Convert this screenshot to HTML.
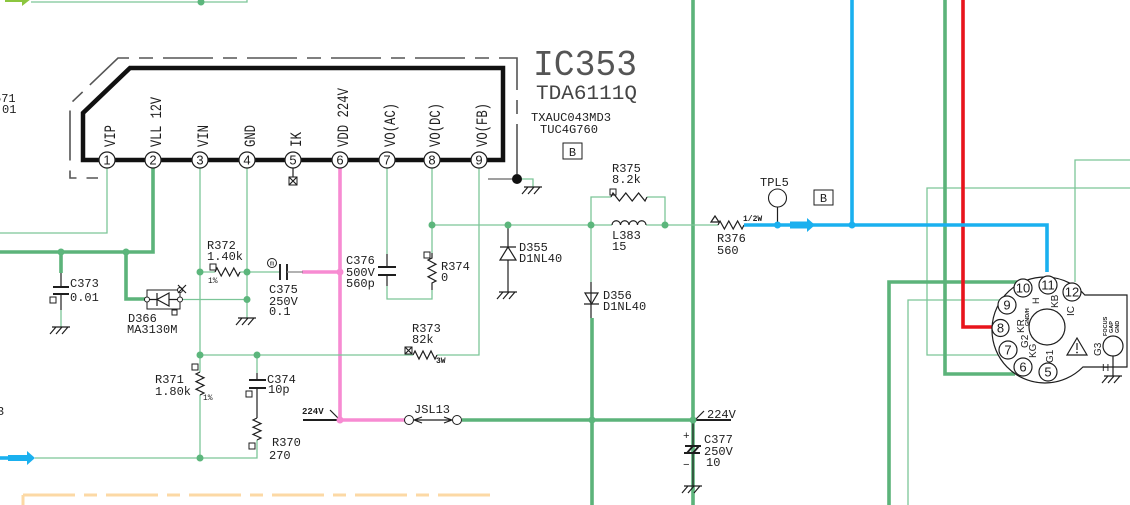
<!DOCTYPE html>
<html><head><meta charset="utf-8">
<style>
html,body{margin:0;padding:0;background:#fff;}
svg{display:block}
text{font-family:"Liberation Mono",monospace;font-size:12px;fill:#1e1e1e}
.t{stroke:#7cc598;stroke-width:1.3;fill:none}
.T{stroke:#5cb37a;stroke-width:3.6;fill:none}
.k{stroke:#1e1e1e;stroke-width:1.2;fill:none}
.p{stroke:#1e1e1e;stroke-width:1.9;fill:none}
.d{fill:#5cb67c}
.pc{fill:#fff;stroke:#1e1e1e;stroke-width:1.2}
.pn{font-family:"Liberation Sans",sans-serif;font-size:13px;text-anchor:middle}
.v{font-size:16px}
.s{font-family:"Liberation Sans",sans-serif;font-size:10px}
</style></head><body>
<svg width="1130" height="505" viewBox="0 0 1130 505" xmlns="http://www.w3.org/2000/svg">
<defs>
<g id="gnd"><path d="M-9,0 H9 M-5,0 L-11,7 M1,0 L-5,7 M7,0 L1,7" stroke="#1e1e1e" stroke-width="1.2" fill="none"/></g>
</defs>

<!-- top-left -->
<polygon points="5,-4 22,-4 22,-8 31,-1 22,6 22,2 5,2" fill="#8cc63f"/>
<path class="t" d="M31,2 H247 V0"/>
<circle class="d" cx="201" cy="2" r="3.5"/>
<text x="-6" y="102">571</text>
<text x="2" y="113">01</text>
<text x="-3" y="415">3</text>

<!-- IC dashed outline -->
<path d="M517,174 V58 H118 L70,104 V178 H98" stroke="#555" stroke-width="1.6" fill="none" stroke-dasharray="50 10 14 10"/>
<!-- IC body -->
<path d="M130,68 H503 V160 H83 V113 Z" stroke="#111" stroke-width="4.5" fill="none"/>

<!-- orange dashed -->
<path d="M23,505 V495" stroke="#fcd9a5" stroke-width="3" fill="none"/>
<path d="M23,495 H498" stroke="#fcd9a5" stroke-width="3" fill="none" stroke-dasharray="52 9 13 9"/>

<!-- pin nets -->
<path class="t" d="M107,168 V233 H0"/>
<path class="T" d="M153,168 V252 H0"/>
<path class="t" d="M200,168 V372 M200,395 V458 H35 M200,458 H257 V440"/>
<path class="t" d="M247,168 V318"/>
<path class="k" d="M293,168 V177"/>
<rect x="289" y="177" width="8" height="8" fill="#fff" stroke="#1e1e1e" stroke-width="1"/>
<path class="k" d="M289,177 L297,185 M297,177 L289,185"/>
<path d="M340,168 V420 H405 M302,272 H340" stroke="#f78bd2" stroke-width="3.6" fill="none"/>
<path class="t" d="M387,168 V254 M387,286 V299 H432 V290"/>
<path class="k" d="M387,254 V267 M387,275 V286"/>
<path class="p" d="M378,267 H396 M378,275 H396"/>
<path class="t" d="M432,168 V253"/>
<path class="k" d="M432,253 V258 l-4,2 l8,4.2 l-8,4.2 l8,4.2 l-8,4.2 l8,4.2 l-4,2 V290"/>
<rect x="424" y="252" width="6" height="6" fill="none" stroke="#1e1e1e" stroke-width="1"/>
<path class="t" d="M479,168 V355 H437"/>

<!-- ground near pin9 -->
<path d="M488,179 H517" stroke="#666" stroke-width="1.3"/>
<path class="t" d="M517,179 H533 V187"/>
<circle cx="517" cy="179" r="5" fill="#111"/>
<use href="#gnd" x="533" y="187"/>

<!-- C373 -->
<path class="T" d="M61,252 V273"/>
<path class="k" d="M61,273 V287 M61,294 V310"/>
<path class="p" d="M53,287 H69 M53,294 H69"/>
<path class="t" d="M61,310 V327"/>
<use href="#gnd" x="61" y="327"/>
<rect x="50" y="297" width="6" height="6" fill="none" stroke="#1e1e1e" stroke-width="1"/>
<text x="70" y="287">C373</text>
<text x="70" y="301">0.01</text>

<!-- D366 -->
<path class="T" d="M126,252 V299 H147"/>
<rect x="147" y="290" width="33" height="19" fill="none" stroke="#1e1e1e" stroke-width="1"/>
<path class="k" d="M147,299.5 H157 M157,293 V306 M169,293 L157,299.5 L169,306 Z M169,299.5 H180"/>
<path class="t" d="M180,299.5 H247"/>
<circle cx="147" cy="299.5" r="2.5" fill="#fff" stroke="#1e1e1e" stroke-width="1"/>
<circle cx="180" cy="299.5" r="2.5" fill="#fff" stroke="#1e1e1e" stroke-width="1"/>
<circle cx="180" cy="290" r="2.5" fill="#fff" stroke="#1e1e1e" stroke-width="1"/>
<path class="k" d="M178,285 L186,293 M186,285 L178,293" stroke-width="0.9"/>
<rect x="172" y="310" width="5" height="5" fill="none" stroke="#1e1e1e" stroke-width="1"/>
<text x="128" y="322">D366</text>
<text x="127" y="333">MA3130M</text>
<use href="#gnd" x="247" y="318"/>

<!-- R372 / C375 -->
<path class="t" d="M200,272 H215 M240,272 H280"/>
<path class="k" d="M215,272 l2,-4 l4.2,8 l4.2,-8 l4.2,8 l4.2,-8 l4.2,8 l2,-4"/>
<rect x="210" y="264" width="6" height="6" fill="none" stroke="#1e1e1e" stroke-width="1"/>
<text x="207" y="249">R372</text>
<text x="207" y="260">1.40k</text>
<text x="208" y="283" style="font-size:8px">1%</text>
<path class="p" d="M280,264 V280 M287,264 V280"/>
<path d="M287,272 H303" stroke="#888" stroke-width="1.3"/>
<circle cx="272" cy="263" r="4.5" fill="#fff" stroke="#1e1e1e" stroke-width="1"/>
<text x="272" y="265.5" text-anchor="middle" style="font-size:7px">m</text>
<text x="269" y="293">C375</text>
<text x="269" y="305">250V</text>
<text x="269" y="315">0.1</text>

<!-- R371 -->
<path class="k" d="M200,372 l-4,2 l8,3.8 l-8,3.8 l8,3.8 l-8,3.8 l8,3.8 l-4,2"/>
<rect x="192" y="364" width="6" height="6" fill="none" stroke="#1e1e1e" stroke-width="1"/>
<text x="155" y="383">R371</text>
<text x="155" y="395">1.80k</text>
<text x="203" y="400" style="font-size:8px">1%</text>

<!-- R373 -->
<path class="t" d="M200,355 H413"/>
<path class="k" d="M413,355 l2,-4 l4,8 l4,-8 l4,8 l4,-8 l4,8 l2,-4"/>
<rect x="405" y="347" width="7" height="7" fill="#fff" stroke="#1e1e1e" stroke-width="1"/>
<path class="k" d="M405,347 L412,354 M412,347 L405,354" stroke-width="0.9"/>
<text x="412" y="332">R373</text>
<text x="412" y="343">82k</text>
<text x="436" y="363" style="font-size:8px;font-weight:bold">3W</text>

<!-- C374 / R370 -->
<path class="t" d="M257,355 V373"/>
<path class="k" d="M257,373 V380 M257,388 V410 M257,410 V418"/>
<path class="p" d="M249,380 H266 M249,388 H266"/>
<path class="k" d="M257,418 l-4,2 l8,3.6 l-8,3.6 l8,3.6 l-8,3.6 l8,3.6 l-4,2"/>
<rect x="246" y="391" width="6" height="6" fill="none" stroke="#1e1e1e" stroke-width="1"/>
<rect x="249" y="443" width="6" height="6" fill="none" stroke="#1e1e1e" stroke-width="1"/>
<text x="267" y="383">C374</text>
<text x="268" y="393">10p</text>
<text x="272" y="446">R370</text>
<text x="269" y="459">270</text>

<!-- blue arrow left -->
<path d="M0,458 H10" stroke="#1ab0ef" stroke-width="3.6"/>
<polygon points="8,455 27,455 27,451 35,458 27,465 27,461 8,461" fill="#1ab0ef"/>

<!-- 224V left / JSL13 -->
<path d="M303,420 H340" stroke="#1e1e1e" stroke-width="2"/>
<path class="k" d="M330,410 L339,419"/>
<text x="302" y="414" style="font-size:9px;font-weight:bold">224V</text>
<path class="k" d="M414,420 H452 M414,420 l8,-3 M414,420 l8,3 M452,420 l-8,-3 M452,420 l-8,3"/>
<circle cx="409" cy="420" r="4.5" fill="#fff" stroke="#1e1e1e" stroke-width="1"/>
<circle cx="457" cy="420" r="4.5" fill="#fff" stroke="#1e1e1e" stroke-width="1"/>
<text x="414" y="413">JSL13</text>
<path class="T" d="M462,420 H693"/>
<path class="T" d="M592,318 V505"/>
<path class="T" d="M693,0 V505"/>
<path d="M693,420 H731" stroke="#1e1e1e" stroke-width="2"/>
<path class="k" d="M696,419 L704,411"/>
<text x="707" y="418">224V</text>

<!-- C377 -->
<path class="k" d="M693,420 V446 M693,453 V486"/>
<path class="p" d="M685,446 H701 M684,453 H700 M687,453 L693,446 M693,453 L699,446" stroke-width="1.4"/>
<text x="683" y="439" style="font-size:11px">+</text>
<text x="683" y="468" style="font-size:11px">−</text>
<use href="#gnd" x="693" y="486"/>
<text x="704" y="443">C377</text>
<text x="704" y="455">250V</text>
<text x="706" y="466">10</text>

<!-- C376 / R374 labels -->
<text x="346" y="264">C376</text>
<text x="346" y="276">500V</text>
<text x="346" y="287">560p</text>
<text x="441" y="270">R374</text>
<text x="441" y="281">0</text>

<!-- horizontal net y=225 -->
<path class="t" d="M432,225 H612 M646,225 H718"/>
<path class="k" d="M612,225 a4.25,4.25 0 0 1 8.5,0 a4.25,4.25 0 0 1 8.5,0 a4.25,4.25 0 0 1 8.5,0 a4.25,4.25 0 0 1 8.5,0"/>
<path class="t" d="M591,225 V197 H611 M647,197 H665 V225"/>
<path class="k" d="M611,197 l2,-4 l6.4,8 l6.4,-8 l6.4,8 l6.4,-8 l6.4,8 l2,-4"/>
<rect x="610" y="189" width="6" height="6" fill="none" stroke="#1e1e1e" stroke-width="1"/>
<text x="612" y="172">R375</text>
<text x="612" y="183">8.2k</text>
<text x="612" y="239">L383</text>
<text x="612" y="250">15</text>

<!-- D355 -->
<path class="k" d="M508,225 V247 M500,247 H516 M508,247 L500,260 H516 Z M508,260 V292"/>
<use href="#gnd" x="508" y="292"/>
<text x="519" y="251">D355</text>
<text x="519" y="262">D1NL40</text>

<!-- D356 -->
<path class="t" d="M591,225 V282"/>
<path class="k" d="M591,282 V318 M585,293 H598 L591.5,304 Z M584,304 H599"/>
<text x="603" y="299">D356</text>
<text x="603" y="310">D1NL40</text>

<!-- R376 / TPL5 -->
<path class="k" d="M711,222 L715,216 L719,222 Z" fill="#fff"/>
<path class="k" d="M718,225 l2,-4 l4.4,8 l4.4,-8 l4.4,8 l4.4,-8 l4.4,8 l2,-4"/>
<text x="743" y="221" style="font-size:8px;font-weight:bold">1/2W</text>
<text x="717" y="242">R376</text>
<text x="717" y="254">560</text>

<!-- right side nets -->
<path class="t" d="M1000,355 H927 V188 H1130"/>
<path class="t" d="M1075,282 V160 H1130"/>
<path class="t" d="M1000,300 H908 V505"/>
<path class="T" d="M1017,282 H889 V505"/>
<path class="T" d="M945,0 V374 H1015"/>
<path d="M963,0 V327 H992" stroke="#e8141c" stroke-width="3.6" fill="none"/>
<path d="M744,225 H1047 V272 M852,0 V225" stroke="#1ab0ef" stroke-width="3.6" fill="none"/>
<polygon points="790,221.5 807,221.5 807,218 815,225 807,232 807,228.5 790,228.5" fill="#1ab0ef"/>
<path class="k" d="M777.5,207 V225"/>
<circle cx="777.5" cy="198" r="9" fill="#fff" stroke="#1e1e1e" stroke-width="1.1"/>
<circle cx="777.5" cy="225" r="3.5" fill="#1ab0ef"/>
<circle cx="852" cy="225" r="3.5" fill="#1ab0ef"/>
<text x="760" y="186">TPL5</text>
<rect x="814" y="190" width="19" height="15" fill="none" stroke="#1e1e1e" stroke-width="1"/>
<text x="823.5" y="202" text-anchor="middle">B</text>

<!-- CRT socket -->
<path d="M1084.8,295 H1127 V367 H1082.9 A53,53 0 1 1 1084.8,295 Z" fill="#fff" stroke="#1e1e1e" stroke-width="1.2"/>
<circle cx="1047" cy="327" r="18" fill="#fff" stroke="#1e1e1e" stroke-width="1.2"/>
<g>
<circle class="pc" cx="1023" cy="288" r="9"/><text class="pn" x="1023" y="292.5">10</text>
<circle class="pc" cx="1048" cy="285" r="9"/><text class="pn" x="1048" y="289.5">11</text>
<circle class="pc" cx="1072" cy="292" r="9"/><text class="pn" x="1072" y="296.5">12</text>
<circle class="pc" cx="1007" cy="305" r="9"/><text class="pn" x="1007" y="309.5">9</text>
<circle class="pc" cx="1000.5" cy="328" r="8.5"/><text class="pn" x="1000.5" y="332.5">8</text>
<circle class="pc" cx="1008" cy="350" r="9"/><text class="pn" x="1008" y="354.5">7</text>
<circle class="pc" cx="1023" cy="367" r="9"/><text class="pn" x="1023" y="371.5">6</text>
<circle class="pc" cx="1048" cy="372" r="9"/><text class="pn" x="1048" y="376.5">5</text>
</g>
<text class="s" transform="translate(1039,304) rotate(-90)" style="font-size:9px">H</text>
<text class="s" transform="translate(1058,308) rotate(-90)">KB</text>
<text class="s" transform="translate(1074,316) rotate(-90)">IC</text>
<text class="s" transform="translate(1024,333) rotate(-90)">KR</text>
<text class="s" transform="translate(1029,326) rotate(-90)" style="font-size:5.5px;font-weight:bold">GND/H</text>
<text class="s" transform="translate(1028,348) rotate(-90)">G2</text>
<text class="s" transform="translate(1036,358) rotate(-90)">KG</text>
<text class="s" transform="translate(1053,363) rotate(-90)">G1</text>
<text class="s" transform="translate(1101,356) rotate(-90)">G3</text>
<text class="s" transform="translate(1107,336) rotate(-90)" style="font-size:5.5px;font-weight:bold">FOCUS</text>
<text class="s" transform="translate(1113,333) rotate(-90)" style="font-size:5.5px;font-weight:bold">GAP</text>
<text class="s" transform="translate(1119,333) rotate(-90)" style="font-size:5.5px;font-weight:bold">GND</text>
<path d="M1077,338 L1087,355 H1067 Z" fill="#fff" stroke="#1e1e1e" stroke-width="1.2"/>
<path class="k" d="M1077,343 V350" stroke-width="1.6"/>
<circle cx="1077" cy="352.5" r="0.9" fill="#1e1e1e"/>
<circle cx="1113" cy="346" r="10" fill="#fff" stroke="#1e1e1e" stroke-width="1.2"/>
<path class="k" d="M1113,356 V376"/>
<use href="#gnd" x="1113" y="376"/>
<text class="s" x="1102" y="371">H</text>

<!-- pins -->
<g>
<circle class="pc" cx="107" cy="160" r="8"/><text class="pn" x="107" y="164.5">1</text>
<circle class="pc" cx="153" cy="160" r="8"/><text class="pn" x="153" y="164.5">2</text>
<circle class="pc" cx="200" cy="160" r="8"/><text class="pn" x="200" y="164.5">3</text>
<circle class="pc" cx="247" cy="160" r="8"/><text class="pn" x="247" y="164.5">4</text>
<circle class="pc" cx="293" cy="160" r="8"/><text class="pn" x="293" y="164.5">5</text>
<circle class="pc" cx="340" cy="160" r="8"/><text class="pn" x="340" y="164.5">6</text>
<circle class="pc" cx="387" cy="160" r="8"/><text class="pn" x="387" y="164.5">7</text>
<circle class="pc" cx="432" cy="160" r="8"/><text class="pn" x="432" y="164.5">8</text>
<circle class="pc" cx="479" cy="160" r="8"/><text class="pn" x="479" y="164.5">9</text>
</g>
<text class="v" transform="translate(115,147) rotate(-90)" textLength="22" lengthAdjust="spacingAndGlyphs">VIP</text>
<text class="v" transform="translate(161,147) rotate(-90)" textLength="50" lengthAdjust="spacingAndGlyphs">VLL 12V</text>
<text class="v" transform="translate(208,147) rotate(-90)" textLength="22" lengthAdjust="spacingAndGlyphs">VIN</text>
<text class="v" transform="translate(255,147) rotate(-90)" textLength="22" lengthAdjust="spacingAndGlyphs">GND</text>
<text class="v" transform="translate(301,147) rotate(-90)" textLength="15" lengthAdjust="spacingAndGlyphs">IK</text>
<text class="v" transform="translate(348,147) rotate(-90)" textLength="59" lengthAdjust="spacingAndGlyphs">VDD 224V</text>
<text class="v" transform="translate(395,147) rotate(-90)" textLength="44" lengthAdjust="spacingAndGlyphs">VO(AC)</text>
<text class="v" transform="translate(440,147) rotate(-90)" textLength="44" lengthAdjust="spacingAndGlyphs">VO(DC)</text>
<text class="v" transform="translate(487,147) rotate(-90)" textLength="44" lengthAdjust="spacingAndGlyphs">VO(FB)</text>

<!-- IC labels -->
<text x="533" y="75" style="font-size:36px;fill:#555" textLength="104" lengthAdjust="spacingAndGlyphs">IC353</text>
<text x="536" y="99" style="font-size:20px;fill:#444" textLength="101" lengthAdjust="spacingAndGlyphs">TDA6111Q</text>
<text x="531" y="121" textLength="80" lengthAdjust="spacingAndGlyphs">TXAUC043MD3</text>
<text x="540" y="133" textLength="58" lengthAdjust="spacingAndGlyphs">TUC4G760</text>
<rect x="563" y="143" width="19" height="16" fill="none" stroke="#1e1e1e" stroke-width="1"/>
<text x="572.5" y="156" text-anchor="middle">B</text>

<!-- junction dots -->
<circle class="d" cx="61" cy="252" r="3.5"/>
<circle class="d" cx="126" cy="252" r="3.5"/>
<circle class="d" cx="200" cy="272" r="3.5"/>
<circle class="d" cx="247" cy="272" r="3.5"/>
<circle class="d" cx="247" cy="299.5" r="3.5"/>
<circle class="d" cx="200" cy="355" r="3.5"/>
<circle class="d" cx="257" cy="355" r="3.5"/>
<circle class="d" cx="200" cy="458" r="3.5"/>
<circle cx="340" cy="272" r="3.5" fill="#f78bd2"/>
<circle cx="340" cy="420" r="3.5" fill="#f78bd2"/>
<circle class="d" cx="432" cy="225" r="3.5"/>
<circle class="d" cx="508" cy="225" r="3.5"/>
<circle class="d" cx="591" cy="225" r="3.5"/>
<circle class="d" cx="665" cy="225" r="3.5"/>
<circle class="d" cx="592" cy="420" r="3.5"/>
<circle class="d" cx="693" cy="420" r="3.5"/>
</svg>
</body></html>
